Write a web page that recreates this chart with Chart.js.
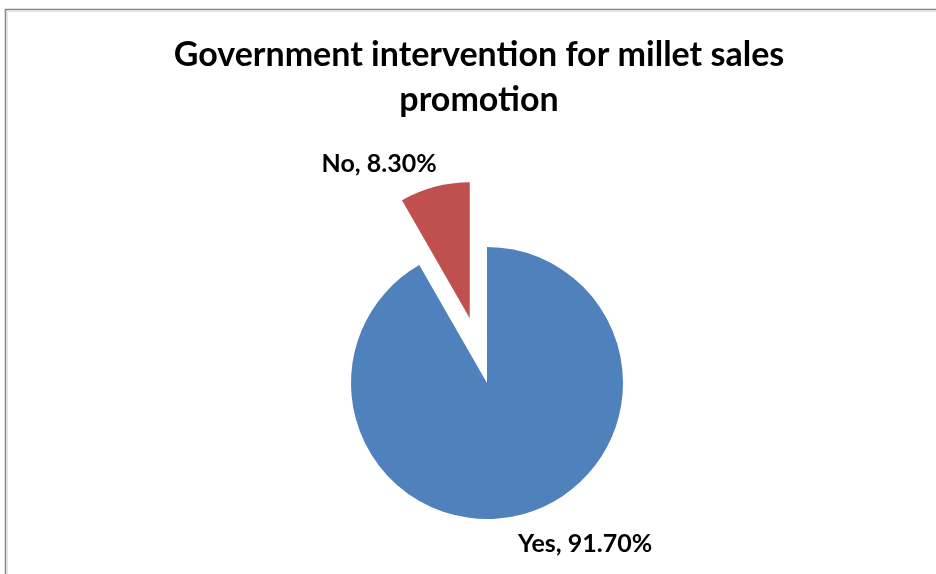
<!DOCTYPE html>
<html>
<head>
<meta charset="utf-8">
<script src="https://cdn.jsdelivr.net/npm/chart.js@4"></script>
<style>
  html, body { margin: 0; padding: 0; background: #fff; }
  #wrap { width: 936px; height: 574px; position: relative; }
</style>
</head>
<body>
<div id="wrap"><canvas id="myChart"></canvas></div>
<script>
const chartTitle = ['Government intervention for millet sales', 'promotion'];
const answers = ['Yes', 'No'];
const shares = [91.7, 8.3];
const sliceColors = ['#4F81BD', '#C0504D'];
// how far each slice is pulled out of the pie, in px
const explode = [0, 67];

// pull slices out along their bisector (chart.js' own offset also grows the radius)
const explodeSlices = {
    id: 'explodeSlices',
    afterDatasetUpdate(chart, args) {
        args.meta.data.forEach((arc, i) => {
            const mid = (arc.startAngle + arc.endAngle) / 2;
            arc.x += Math.cos(mid) * explode[i];
            arc.y += Math.sin(mid) * explode[i];
        });
    }
};

// outer frame, title and "Label, xx.xx%" tags next to each slice
const decorations = {
    id: 'decorations',
    beforeDraw(chart) {
        const ctx = chart.ctx;
        ctx.save();
        ctx.strokeStyle = '#868686';
        ctx.lineWidth = 1.5;
        ctx.beginPath();
        ctx.moveTo(5.5, chart.height);
        ctx.lineTo(5.5, 9.5);
        ctx.lineTo(chart.width, 9.5);
        ctx.stroke();
        ctx.strokeStyle = '#e6e6e6';
        ctx.lineWidth = 1;
        ctx.beginPath();
        ctx.moveTo(7.5, chart.height);
        ctx.lineTo(7.5, 11.5);
        ctx.lineTo(chart.width, 11.5);
        ctx.stroke();

        ctx.fillStyle = '#000';
        ctx.font = 'bold 34px Lato';
        ctx.textAlign = 'center';
        ctx.textBaseline = 'alphabetic';
        ctx.fillText(chartTitle[0], 479, 66);
        ctx.fillText(chartTitle[1], 479, 111);
        ctx.restore();
    },
    afterDatasetsDraw(chart) {
        const ctx = chart.ctx;
        const meta = chart.getDatasetMeta(0);
        ctx.save();
        ctx.fillStyle = '#000';
        ctx.font = 'bold 25px Lato';
        ctx.textBaseline = 'alphabetic';
        meta.data.forEach((arc, i) => {
            const mid = (arc.startAngle + arc.endAngle) / 2;
            const ax = arc.x + Math.cos(mid) * arc.outerRadius;
            const ay = arc.y + Math.sin(mid) * arc.outerRadius;
            const text = answers[i] + ', ' + shares[i].toFixed(2) + '%';
            if (Math.cos(mid) < 0) {
                ctx.textAlign = 'right';
                ctx.fillText(text, ax + 2, ay - 15);
            } else {
                ctx.textAlign = 'left';
                ctx.fillText(text, ax - 4, ay + 38);
            }
        });
        ctx.restore();
    }
};

new Chart(document.getElementById('myChart'), {
    type: 'pie',
    data: {
        labels: answers,
        datasets: [{
            data: shares,
            backgroundColor: sliceColors,
            borderWidth: 0,
            clip: false
        }]
    },
    options: {
        responsive: true,
        maintainAspectRatio: false,
        animation: false,
        radius: 136,
        layout: {
            padding: { top: 192, bottom: 0, left: 38, right: 0 }
        },
        plugins: {
            legend: { display: false },
            tooltip: { enabled: false }
        }
    },
    plugins: [explodeSlices, decorations]
});
</script>
</body>
</html>
